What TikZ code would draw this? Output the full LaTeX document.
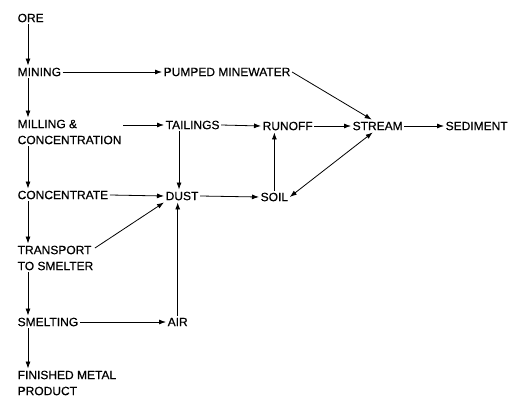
\documentclass[tikz,border=0pt]{standalone}
\usepackage{fontspec}
\newfontfamily\lblfont{Liberation Sans}[FakeBold=0.5]
\usetikzlibrary{arrows.meta}
\begin{document}
\begin{tikzpicture}[x=1pt,y=-1pt,
  lbl/.style={anchor=west,inner xsep=1.5pt,inner ysep=2pt,font=\lblfont\fontsize{12}{16}\selectfont,align=left},
  arr/.style={line width=0.8pt,-{Latex[length=7pt,width=5pt]}},
  darr/.style={line width=0.8pt,{Latex[length=7pt,width=5pt]}-{Latex[length=7pt,width=5pt]}}]
\useasboundingbox (0,0) rectangle (509,398);
\node[lbl] (ore) at (16,18) {ORE};
\node[lbl] (mining) at (16,72) {MINING};
\node[lbl] (milling) at (16,132) {MILLING \&\\CONCENTRATION};
\node[lbl] (concentrate) at (16,195) {CONCENTRATE};
\node[lbl] (transport) at (16,258) {TRANSPORT\\TO SMELTER};
\node[lbl] (smelting) at (16,322) {SMELTING};
\node[lbl] (finished) at (16,383) {FINISHED METAL\\PRODUCT};
\node[lbl] (pumped) at (162,72) {PUMPED MINEWATER};
\node[lbl] (tailings) at (164,125) {TAILINGS};
\node[lbl] (runoff) at (261,126) {RUNOFF};
\node[lbl] (stream) at (351,126) {STREAM};
\node[lbl] (sediment) at (444,126) {SEDIMENT};
\node[lbl] (dust) at (164,196) {DUST};
\node[lbl] (soil) at (259,197) {SOIL};
\node[lbl] (air) at (166,322) {AIR};
% vertical main chain
\draw[arr] ([xshift=12pt]ore.south west) -- ([xshift=12pt]mining.north west);
\draw[arr] ([xshift=12pt]mining.south west) -- ([xshift=12pt]milling.north west);
\draw[arr] ([xshift=12pt]milling.south west) -- ([xshift=12pt]concentrate.north west);
\draw[arr] ([xshift=12pt]concentrate.south west) -- ([xshift=12pt]transport.north west);
\draw[arr] ([xshift=12pt]transport.south west) -- ([xshift=12pt]smelting.north west);
\draw[arr] ([xshift=12pt]smelting.south west) -- ([xshift=12pt]finished.north west);
% horizontal
\draw[arr] (mining.east) -- (pumped.west);
\draw[arr] (milling.east |- tailings.west) -- (tailings.west);
\draw[arr] (tailings.east) -- (runoff.west);
\draw[arr] (runoff.east) -- (stream.west);
\draw[arr] (stream.east) -- (sediment.west);
\draw[arr] (concentrate.east) -- (dust.west);
\draw[arr] (dust.east) -- (soil.west);
\draw[arr] (smelting.east) -- (air.west);
% others
\draw[arr] ([xshift=-3pt]dust.north |- tailings.south) -- ([xshift=-3pt]dust.north);
\draw[arr] (air.north) -- (air.north |- dust.south);
\draw[arr] ([yshift=10pt]transport.east) -- (dust.south west);
\draw[arr] (pumped.east) -- ([xshift=-6pt]stream.north);
\draw[darr] ([xshift=-5pt]stream.south) -- (soil.east);
\draw[arr] (soil.north) -- (soil.north |- runoff.south);
\end{tikzpicture}
\end{document}
